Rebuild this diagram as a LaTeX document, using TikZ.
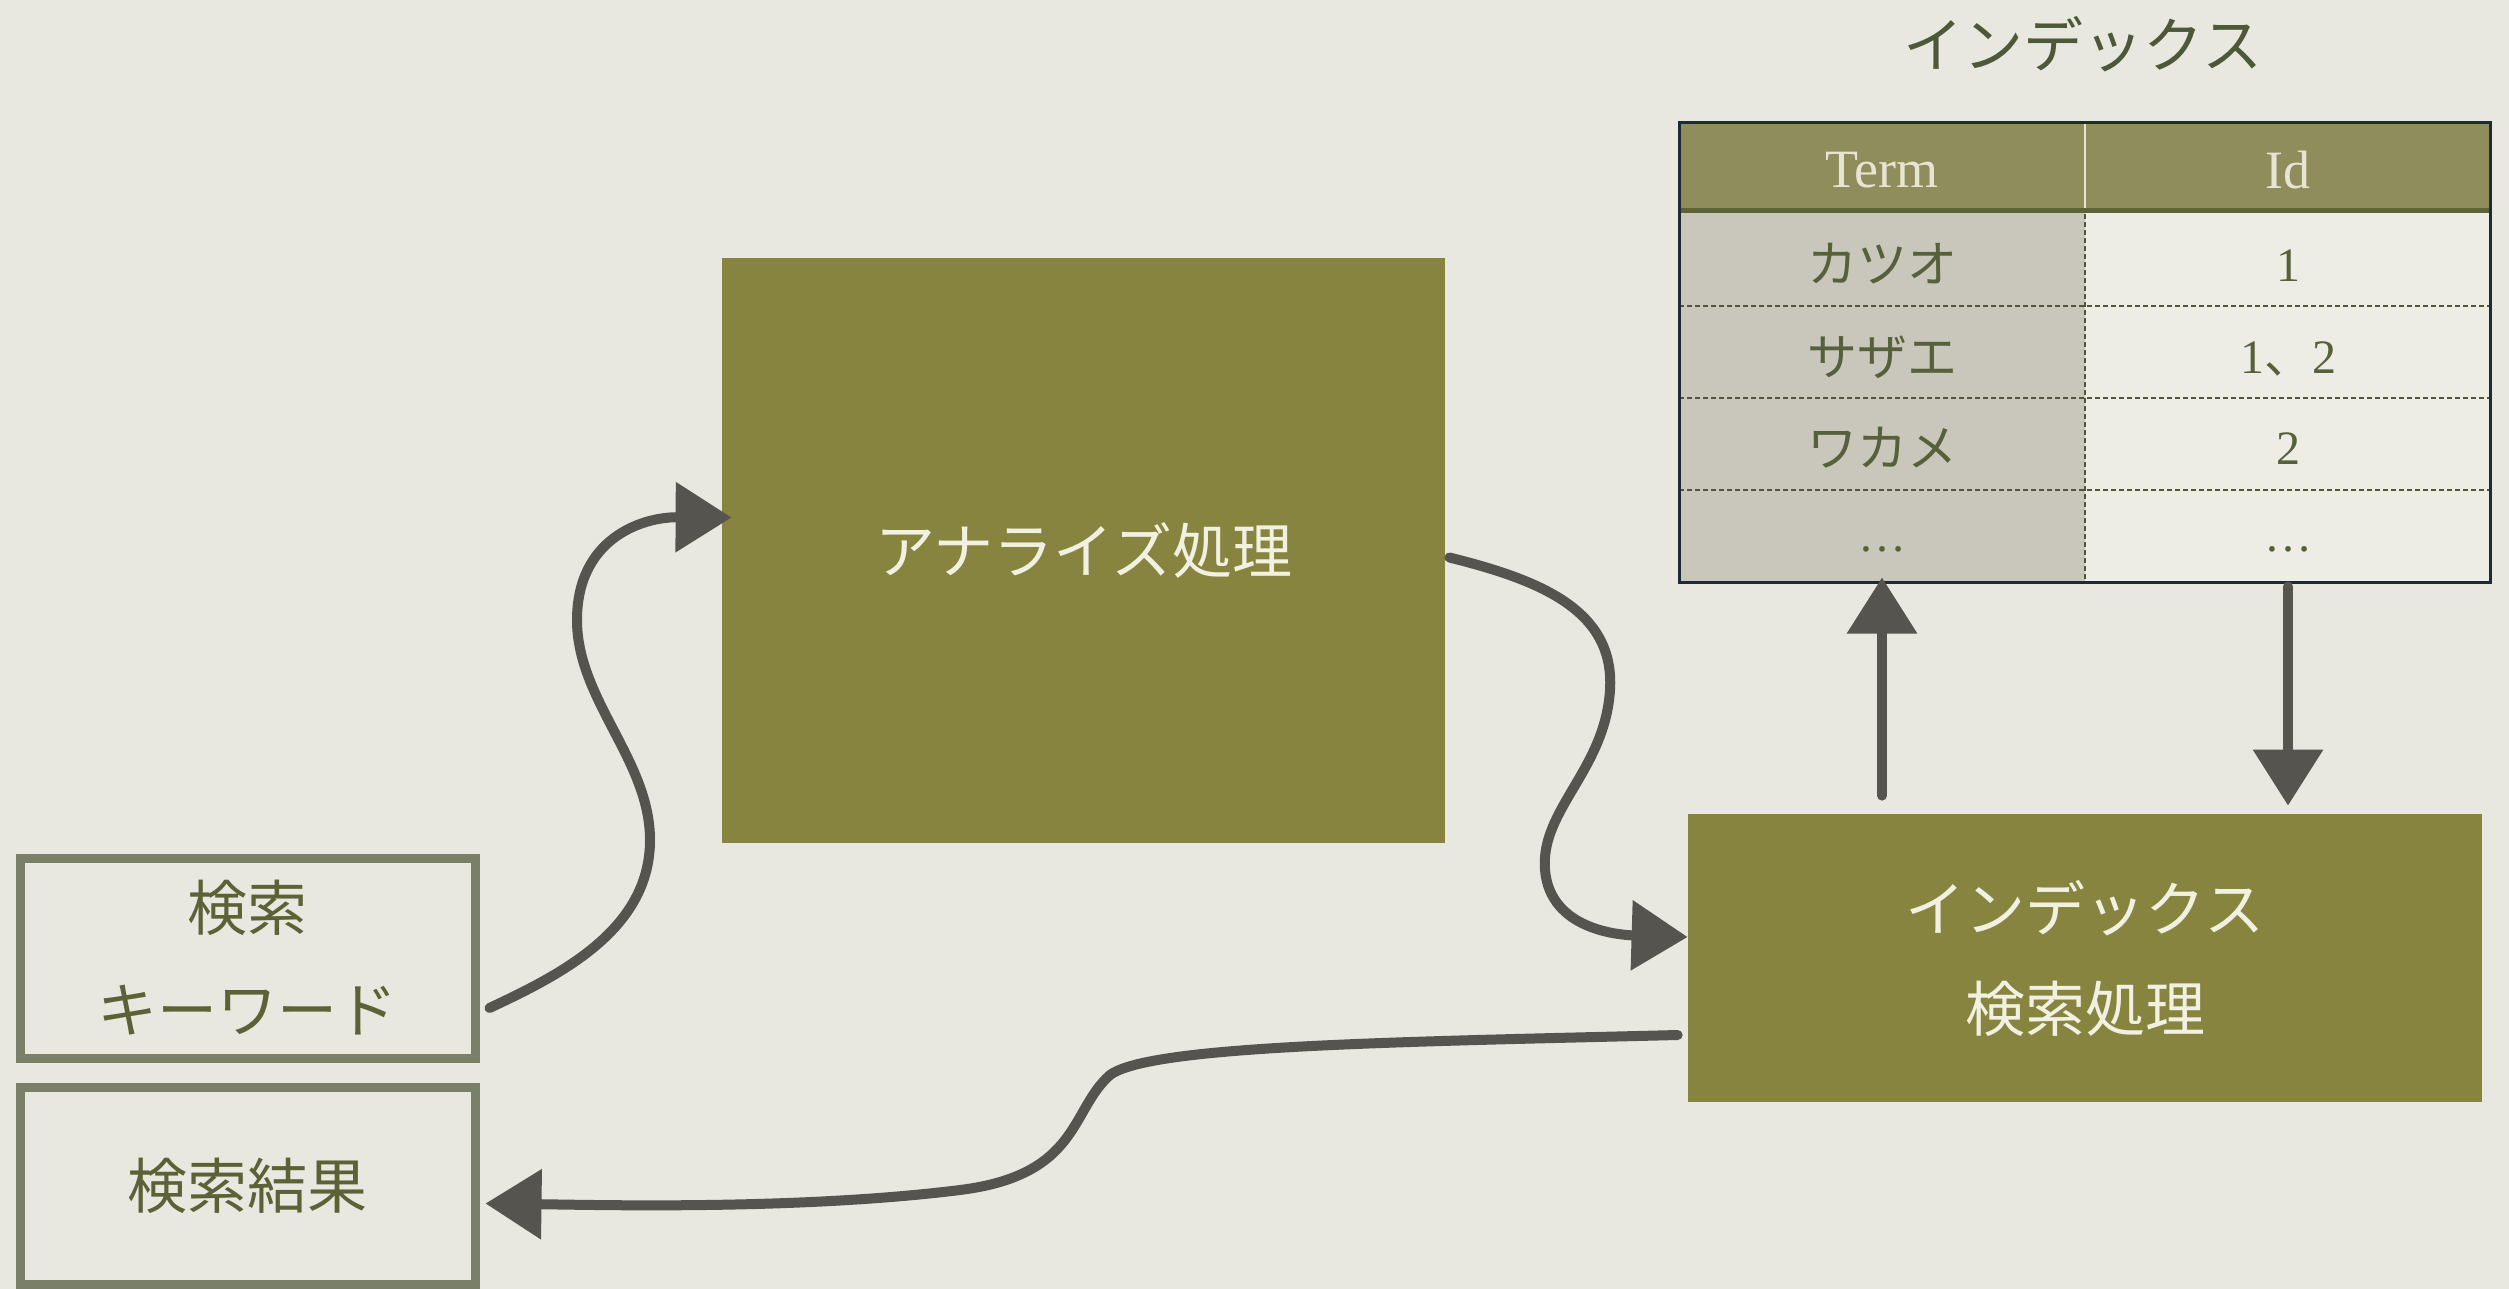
\documentclass[tikz,border=0pt]{standalone}
\usepackage{fontspec}
\setmainfont{Liberation Serif}
\newfontfamily\jp{Noto Sans CJK JP}
\usetikzlibrary{arrows.meta,calc}
\definecolor{bg}{HTML}{E9E8E0}
\definecolor{boxolive}{HTML}{86843F}
\definecolor{boxtext}{HTML}{F2F0E0}
\definecolor{inborder}{HTML}{7A8068}
\definecolor{intext}{HTML}{5C6236}
\definecolor{arrc}{HTML}{55544F}
\definecolor{termfill}{HTML}{C9C7BB}
\definecolor{idfill}{HTML}{EDECE5}
\definecolor{hdrfill}{HTML}{8E8D5B}
\definecolor{hdrline}{HTML}{5D6337}
\definecolor{hdrtxt}{HTML}{E6E4D2}
\definecolor{dashc}{HTML}{4E5633}
\definecolor{tblborder}{HTML}{1E2B33}
\definecolor{celltxt}{HTML}{56603A}
\definecolor{titlec}{HTML}{4C5838}
\begin{document}
\begin{tikzpicture}[x=0.5pt,y=-0.5pt,
  procbox/.style={fill=boxolive, text=boxtext, inner sep=0pt, font=\jp\fontsize{30pt}{50pt}\selectfont, align=center},
  inbox/.style={draw=inborder, line width=4.5pt, text=intext, inner sep=0pt, font=\jp\fontsize{30pt}{51pt}\selectfont, align=center},
  arr/.style={draw=arrc, line width=5pt, line cap=round, -{Triangle[length=28pt,width=34pt]}},
  celltext/.style={text=celltxt, inner sep=0pt, font=\jp\fontsize{25pt}{25pt}\selectfont},
  numtext/.style={text=celltxt, inner sep=0pt, font=\fontsize{24pt}{24pt}\selectfont},
  hdrtext/.style={text=hdrtxt, inner sep=0pt, font=\fontsize{27pt}{27pt}\selectfont},
  dashln/.style={draw=dashc, line width=1pt, dash pattern=on 2.5pt off 1.5pt},
  titletext/.style={text=titlec, inner sep=0pt, font=\jp\fontsize{30pt}{30pt}\selectfont}]
\fill[bg] (0,0) rectangle (2509,1289);
\useasboundingbox (0,0) rectangle (2509,1289);

% process boxes
\node[procbox, minimum width=361.5pt, minimum height=292.5pt] (ana) at (1083.5,550.5) {アナライズ処理};
\node[procbox, minimum width=397pt, minimum height=144pt] (isp) at (2085,958) {インデックス\\検索処理};
\node[inbox, minimum width=227.5pt, minimum height=100pt] (kw) at (247.5,958) {検索\\キーワード};
\node[inbox, minimum width=227.5pt, minimum height=98.5pt] (res) at (247.5,1185.5) {検索結果};

% index table
\node[titletext] (ttl) at (2083,44) {インデックス};
\fill[termfill] (1679,213) rectangle (2085,582);
\fill[idfill] (2085,213) rectangle (2490,582);
\fill[hdrfill] (1679,123) rectangle (2490,213);
\draw[hdrline, line width=2.5pt] (1679,211) -- (2490,211);
\draw[hdrtxt, line width=1pt] (2085,123) -- (2085,208);
\foreach \yy in {306,398,490} \draw[dashln] (1679,\yy) -- (2490,\yy);
\draw[dashln] (2085,214) -- (2085,582);
\node[draw=tblborder, line width=1.5pt, minimum width=405.5pt, minimum height=229.5pt, inner sep=0pt] (tbl) at (2084.5,352.5) {};

\node[hdrtext] (hT) at (1882,170) {Term};
\node[hdrtext] (hI) at (2288,170) {Id};
\node[celltext] (t1) at (1882,264) {カツオ};
\node[celltext] (t2) at (1882,357) {サザエ};
\node[celltext] (t3) at (1882,448) {ワカメ};
\node[numtext] (t4) at (1882,549) {…};
\node[numtext] (i1) at (2288,266) {1};
\node[numtext] (i2) at (2288,359) {1{\jp\fontsize{24pt}{24pt}\selectfont 、}2};
\node[numtext] (i3) at (2288,449) {2};
\node[numtext] (i4) at (2288,549) {…};

% connectors
\draw[arr] ($(isp.north -| hT)+(0,-18)$) -- ($(tbl.south -| hT)+(0,-6)$);
\draw[arr] ($(tbl.south -| hI)+(0,3)$) -- ($(isp.north -| hI)+(0,-8)$);
\draw[arr] ($(kw.east)+(10,50)$) .. controls (560,975) and (650,930) .. (650,840)
   .. controls (650,760) and (577,700) .. (577,620)
   .. controls (577,540) and (640,517) .. ($(ana.west)+(10,-33)$);
\draw[arr] ($(ana.east)+(4,7)$) .. controls (1540,580) and (1615,610) .. (1610,690)
   .. controls (1605,770) and (1540,810) .. (1545,870)
   .. controls (1550,930) and (1620,935) .. ($(isp.west)+(0,-21)$);
\draw[arr] ($(isp.west)+(-10,77)$) .. controls (1400,1042) and (1150,1045) .. (1110,1075)
   .. controls (1070,1110) and (1080,1175) .. (960,1190)
   .. controls (800,1210) and (600,1205) .. ($(res.east)+(6,18)$);
\end{tikzpicture}
\end{document}
